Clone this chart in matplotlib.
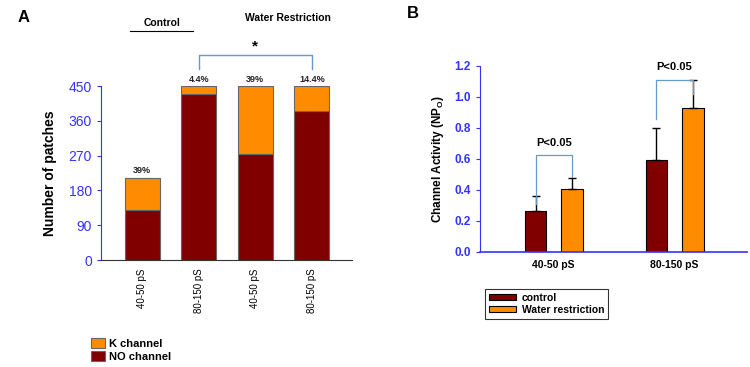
import matplotlib.pyplot as plt
import numpy as np

plt.rcParams['font.family'] = ['Liberation Sans', 'DejaVu Sans']

# panel A: stacked counts
a_labels = ["40-50 pS", "80-150 pS", "40-50 pS", "80-150 pS"]
no_channel = [130, 430, 275, 385]
k_channel = [83, 20, 175, 65]
a_pct = ["39%", "4.4%", "39%", "14.4%"]

# panel B: channel activity
b_groups = ["40-50 pS", "80-150 pS"]
control = [0.265, 0.59]
control_err = [0.095, 0.205]
water = [0.405, 0.93]
water_err = [0.07, 0.18]

dark = "#800000"
orange = "#FF8C00"
blue = "#3333FF"

fig = plt.figure(figsize=(7.5, 3.67), dpi=100)
W, H = 750, 367

def px_axes(l, t, r, b):
    return fig.add_axes([l / W, 1 - b / H, (r - l) / W, (b - t) / H])

# ---------- A ----------
ax = px_axes(101, 86, 352, 260)
x = np.arange(4)
ax.bar(x, no_channel, width=0.62, color=dark, edgecolor="#666666", linewidth=0.8, label="NO channel")
ax.bar(x, k_channel, bottom=no_channel, width=0.62, color=orange, edgecolor="#666666", linewidth=0.8, label="K channel")
ax.set_xlim(-0.73, 3.71)
ax.set_ylim(0, 450)
ax.set_yticks([0, 90, 180, 270, 360, 450])
ax.tick_params(axis='y', colors=blue, labelsize=10, length=3)
for t in ax.get_yticklabels():
    t.set_color(blue)
ax.set_xticks(x)
ax.set_xticklabels(a_labels, rotation=90, fontsize=7)
ax.tick_params(axis='x', length=0, pad=6)
for s in ["top", "right"]:
    ax.spines[s].set_visible(False)
ax.spines["left"].set_color(blue)
ax.spines["bottom"].set_color("#333333")
ax.set_ylabel("Number of patches", fontsize=10, fontweight="bold", labelpad=8)
for i in range(4):
    ax.text(x[i], no_channel[i] + k_channel[i] + 6, a_pct[i], ha="center", va="bottom",
            fontsize=6.5, fontweight="bold", color="#222222")
# bracket between bar 2 and bar 4
ax.plot([1, 1, 3, 3], [495, 530, 530, 495], color="#6699CC", lw=1, clip_on=False)
ax.text(2, 535, "*", ha="center", va="bottom", fontsize=11, fontweight="bold")
h, l = ax.get_legend_handles_labels()
ax.legend(h[::-1], l[::-1], loc="upper left", bbox_to_anchor=(-0.08, -0.39), frameon=False,
          prop={"weight": "bold", "size": 8}, handlelength=1.3, handleheight=1.0,
          labelspacing=0.2, handletextpad=0.3)

fig.text(18 / W, 1 - 17 / H, "A", fontsize=12, fontweight="bold", va="center")
fig.text(162 / W, 1 - 23 / H, "Control", fontsize=7.5, fontweight="bold", ha="center", va="center")
fig.add_artist(plt.Line2D([130 / W, 193 / W], [1 - 31 / H, 1 - 31 / H], color="black", lw=0.8))
fig.text(288 / W, 1 - 18 / H, "Water Restriction", fontsize=7.5, fontweight="bold", ha="center", va="center")

# ---------- B ----------
bx = px_axes(480, 65.7, 747, 251.7)
g = np.arange(2)
bx.bar(g - 0.15, control, width=0.18, color=dark, edgecolor="black", linewidth=0.8, label="control")
bx.bar(g + 0.15, water, width=0.18, color=orange, edgecolor="black", linewidth=0.8, label="Water restriction")
bx.errorbar(g - 0.15, control, yerr=[[0, 0], control_err], fmt="none", ecolor="black", elinewidth=1, capsize=3)
bx.errorbar(g + 0.15, water, yerr=[[0, 0], water_err], fmt="none", ecolor="black", elinewidth=1, capsize=3)
bx.set_xlim(-0.61, 1.6)
bx.set_ylim(0, 1.2)
bx.set_yticks([0, 0.2, 0.4, 0.6, 0.8, 1.0, 1.2])
bx.set_yticklabels(["0.0", "0.2", "0.4", "0.6", "0.8", "1.0", "1.2"])
bx.tick_params(axis='y', colors=blue, labelsize=8.5, length=3)
for t in bx.get_yticklabels():
    t.set_color(blue)
    t.set_fontweight("bold")
bx.set_xticks(g)
bx.set_xticklabels(b_groups, fontsize=7.5, fontweight="bold")
bx.tick_params(axis='x', length=0, pad=6)
for s in ["top", "right"]:
    bx.spines[s].set_visible(False)
bx.spines["left"].set_color(blue)
bx.spines["bottom"].set_color(blue)
bx.spines["bottom"].set_linewidth(1.2)
bx.set_ylabel("Channel Activity (NP$_\\mathregular{O}$)", fontsize=8.5, fontweight="bold", labelpad=6)
# significance brackets
bx.plot([-0.15, -0.15, 0.15, 0.15], [0.31, 0.625, 0.625, 0.48], color="#6699CC", lw=0.9)
bx.text(0, 0.67, "P<0.05", ha="center", va="bottom", fontsize=8, fontweight="bold")
bx.plot([0.85, 0.85, 1.15, 1.15], [0.855, 1.108, 1.108, 1.02], color="#6699CC", lw=0.9, clip_on=False)
bx.text(1, 1.16, "P<0.05", ha="center", va="bottom", fontsize=8, fontweight="bold")
leg = bx.legend(loc="upper left", bbox_to_anchor=(0.0, -0.17), prop={"weight": "bold", "size": 7.5},
                frameon=True, fancybox=False, edgecolor="black", handlelength=2.6, handleheight=0.6,
                labelspacing=0.2, handletextpad=0.5, borderpad=0.4)
leg.get_frame().set_linewidth(0.8)

fig.text(407 / W, 1 - 14 / H, "B", fontsize=12, fontweight="bold", va="center")

fig.savefig("out.png", dpi=100)
